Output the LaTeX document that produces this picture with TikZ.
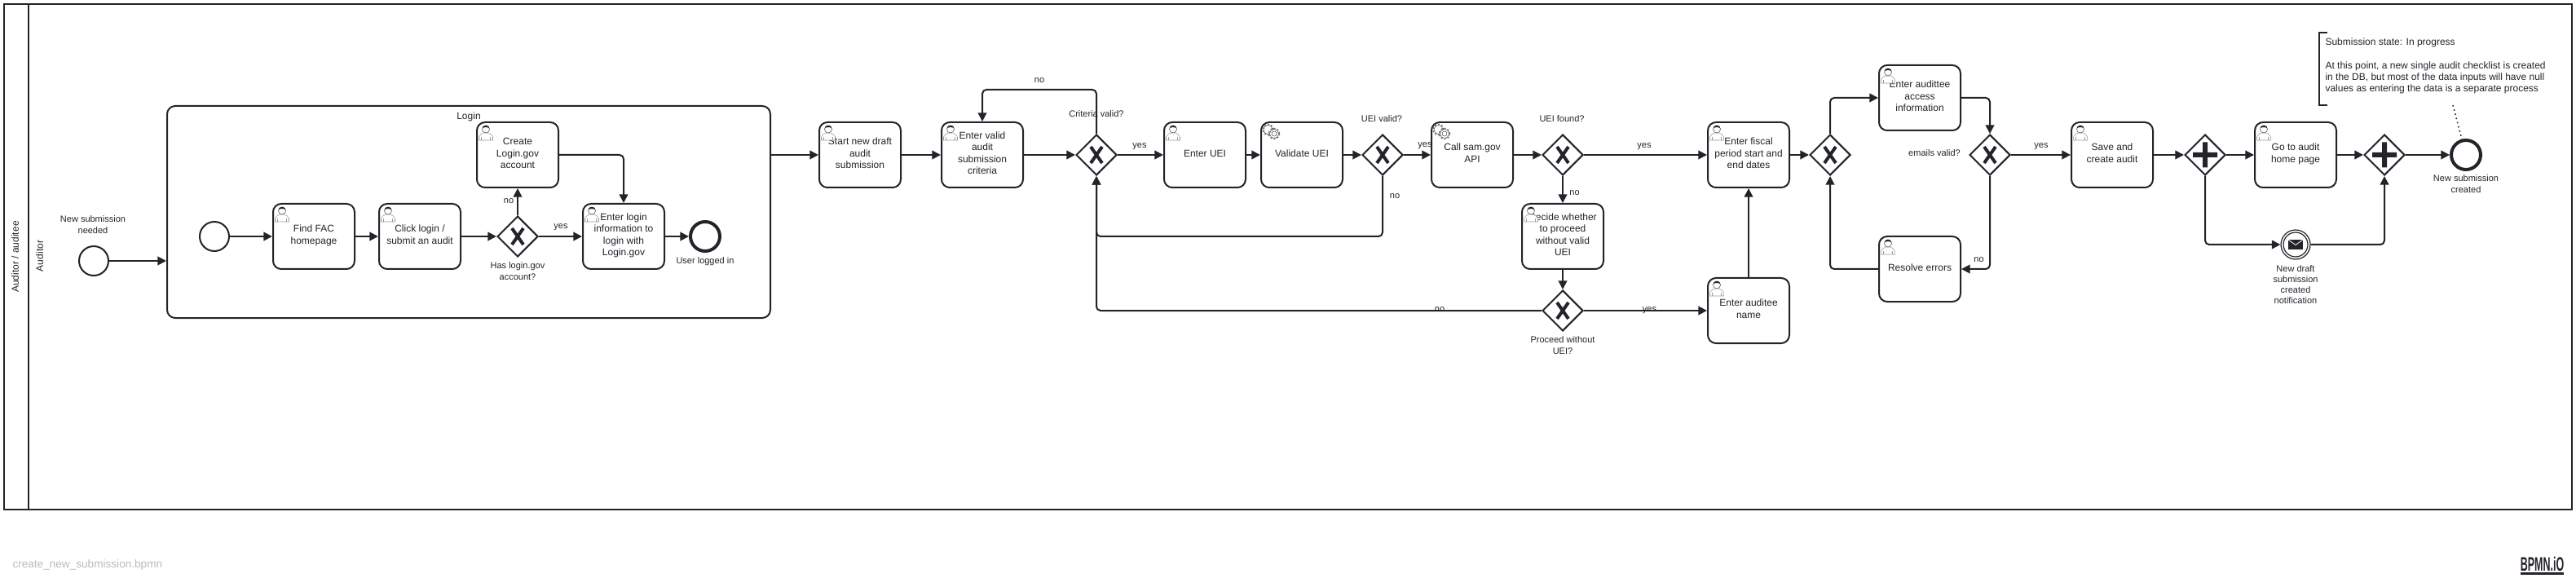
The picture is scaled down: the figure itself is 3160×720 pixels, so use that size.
\documentclass[tikz,border=0pt]{standalone}
\usepackage{fontspec}
\usepackage{graphicx}
\setmainfont{Liberation Sans}
\usetikzlibrary{arrows.meta,shapes.geometric}
\definecolor{bpmnink}{RGB}{34,36,42}
\tikzset{every picture/.style={line width=0.75pt}}
\tikzset{
	taskbox/.style={draw=bpmnink,text=bpmnink,line width=1.5pt,fill=white,rounded corners=7.5pt,minimum width=75pt,minimum height=60pt,inner sep=0pt,align=center,font=\fontsize{9}{10.8}\selectfont,execute at begin node=\strut,execute at end node=\strut},
	subbox/.style={draw=bpmnink,line width=1.5pt,rounded corners=7.5pt,minimum width=555pt,minimum height=195pt,inner sep=0pt},
	startevent/.style={circle,draw=bpmnink,line width=1.5pt,fill=white,minimum size=27pt,inner sep=0pt},
	endevent/.style={circle,draw=bpmnink,line width=3pt,fill=white,minimum size=27pt,inner sep=0pt},
	msgevent/.style={circle,draw=bpmnink,line width=0.9pt,fill=white,minimum size=27pt,inner sep=0pt},
	gateway/.style={diamond,draw=bpmnink,line width=1.5pt,fill=white,minimum width=37.5pt,minimum height=37.5pt,aspect=1,inner sep=0pt},
	flow/.style={draw=bpmnink,line width=1.5pt,rounded corners=3.75pt,-{Triangle[length=8pt,width=8pt]}},
	assoc/.style={draw=bpmnink,line width=1.1pt,dash pattern=on 1.3pt off 2.7pt},
	lbl/.style={text=bpmnink,inner sep=0pt,align=center,font=\fontsize{8.25}{9.9}\selectfont,execute at begin node=\strut,execute at end node=\strut},
	lbltask/.style={text=bpmnink,inner sep=0pt,align=center,font=\fontsize{9}{10.8}\selectfont,execute at begin node=\strut,execute at end node=\strut},
	usericon/.pic={
		\begin{scope}[yscale=-1]
		\draw [draw=black!40,fill=white,line width=0.4pt] (3.5,23) -- (3.5,19) .. controls (4,16) and (7,15.5) .. (9,14) -- (15,14) .. controls (17,15.5) and (20,16) .. (20.5,19) -- (20.5,23) -- cycle ;
		\draw [draw=black!40,line width=0.4pt] (6.5,23) -- (6.5,19) (17.5,23) -- (17.5,19) ;
		\draw [draw=black!70,fill=white,line width=0.4pt] (12,9.5) circle (4.5) ;
		\fill [black!85] (7.5,8.5) .. controls (8,3.5) and (16,3.5) .. (16.5,8.5) .. controls (14,6.5) and (10,6.5) .. (7.5,8.5) -- cycle ;
		\end{scope}
	},
	servicegear/.pic={
		\begin{scope}[yscale=-1]
		\draw [draw=black!55,line width=1.1pt,dash pattern=on 1.6pt off 1.6pt] (9.5,10) circle (6.5) ;
		\draw [draw=black!75,fill=white,line width=0.35pt] (9.5,10) circle (5.5) ;
		\draw [draw=black!55,line width=1.1pt,dash pattern=on 1.6pt off 1.6pt] (17,15) circle (6.5) ;
		\draw [draw=black!75,fill=white,line width=0.35pt] (17,15) circle (5.5) ;
		\draw [draw=black!75,fill=white,line width=0.35pt] (17,15) circle (3) ;
		\end{scope}
	},
	gatewayx/.pic={
		\draw [draw=bpmnink,line width=3pt] (-7,-10) -- (7,10) (7,-10) -- (-7,10) ;
	},
	gatewayplus/.pic={
		\fill [bpmnink] (-15,-3) rectangle (15,3) (-3,-15.5) rectangle (3,15.5) ;
	},
	envelope/.pic={
		\begin{scope}[yscale=-1]
		\draw [draw=bpmnink,line width=0.9pt] (0,0) circle (15) ;
		\fill [bpmnink] (-9,-6) rectangle (9,6) ;
		\draw [draw=white,line width=0.6pt] (-9,-6) -- (0,0.5) -- (9,-6) ;
		\end{scope}
	}
}

\begin{document}
\begin{tikzpicture}[x=0.75pt,y=0.75pt,yscale=-1,xscale=1]
	\useasboundingbox (0,0) rectangle (3160,720);

	%Pool
	\draw [draw=bpmnink,line width=1.5pt] (5,5) rectangle (3155,625) ;
	\draw [draw=bpmnink,line width=1.5pt] (35,5) -- (35,625) ;
	% Text Node
	\draw (20,315) node[lbltask,rotate=90] (poolname) {Auditor / auditee};
	% Text Node
	\draw (50,314) node[lbltask,rotate=90] (lanename) {Auditor};

	%Login subprocess
	\draw (575,260) node[subbox] (loginsub) {};
	% Text Node
	\draw (575,144) node[lbltask] (loginname) {Login};

	%Events
	\draw (115,320) node[startevent] (startneeded) {};
	\draw (263,290) node[startevent] (startlogin) {};
	\draw (865,290) node[endevent] (endlogin) {};
	\draw (3025,190) node[endevent] (endcreated) {};
	\draw (2816,300) node[msgevent] (msgnotify) {};
	\pic at (msgnotify.center) {envelope};

	%User tasks
	\draw (385,290) node[taskbox] (findfac) {Find FAC\\homepage};
	\draw (515,290) node[taskbox] (clicklogin) {Click login /\\submit an audit};
	\draw (635,190) node[taskbox] (createlogin) {Create\\Login.gov\\account};
	\draw (765,290) node[taskbox] (enterlogin) {Enter login\\information to\\login with\\Login.gov};
	\draw (1055,190) node[taskbox] (startdraft) {Start new draft\\audit\\submission};
	\draw (1205,190) node[taskbox] (entervalid) {Enter valid\\audit\\submission\\criteria};
	\draw (1478,190) node[taskbox] (enteruei) {Enter UEI};
	\draw (1917,290) node[taskbox] (decideuei) {Decide whether\\to proceed\\without valid\\UEI};
	\draw (2145,190) node[taskbox] (enterfiscal) {Enter fiscal\\period start and\\end dates};
	\draw (2145,381) node[taskbox] (entername) {Enter auditee\\name};
	\draw (2355,120) node[taskbox] (enteraccess) {Enter audittee\\access\\information};
	\draw (2355,330) node[taskbox] (resolve) {Resolve errors};
	\draw (2591,190) node[taskbox] (savecreate) {Save and\\create audit};
	\draw (2816,190) node[taskbox] (gohome) {Go to audit\\home page};

	%Service tasks
	\draw (1597,190) node[taskbox] (validateuei) {Validate UEI};
	\draw (1806,190) node[taskbox] (callsam) {Call sam.gov\\API};

	%Task icons
	\pic at (findfac.north west) {usericon};
	\pic at (clicklogin.north west) {usericon};
	\pic at (createlogin.north west) {usericon};
	\pic at (enterlogin.north west) {usericon};
	\pic at (startdraft.north west) {usericon};
	\pic at (entervalid.north west) {usericon};
	\pic at (enteruei.north west) {usericon};
	\pic at (decideuei.north west) {usericon};
	\pic at (enterfiscal.north west) {usericon};
	\pic at (entername.north west) {usericon};
	\pic at (enteraccess.north west) {usericon};
	\pic at (resolve.north west) {usericon};
	\pic at (savecreate.north west) {usericon};
	\pic at (gohome.north west) {usericon};
	\pic at (validateuei.north west) {servicegear};
	\pic at (callsam.north west) {servicegear};

	%Gateways
	\draw (635,290) node[gateway] (gwlogin) {};
	\draw (1345,190) node[gateway] (gwcriteria) {};
	\draw (1696,190) node[gateway] (gwuei) {};
	\draw (1917,190) node[gateway] (gwfound) {};
	\draw (1917,381) node[gateway] (gwproceed) {};
	\draw (2245,190) node[gateway] (gwaccess) {};
	\draw (2441,190) node[gateway] (gwemails) {};
	\draw (2705,190) node[gateway] (gwsplit) {};
	\draw (2925,190) node[gateway] (gwjoin) {};
	\pic at (gwlogin.center) {gatewayx};
	\pic at (gwcriteria.center) {gatewayx};
	\pic at (gwuei.center) {gatewayx};
	\pic at (gwfound.center) {gatewayx};
	\pic at (gwproceed.center) {gatewayx};
	\pic at (gwaccess.center) {gatewayx};
	\pic at (gwemails.center) {gatewayx};
	\pic at (gwsplit.center) {gatewayplus};
	\pic at (gwjoin.center) {gatewayplus};

	%Bend points
	\coordinate (looptop) at (1275,110);
	\coordinate (noreturn) at (1345,290);
	\coordinate (assocstart) at (3009,129);

	%Flows inside login
	\draw [flow] (startlogin) -- (findfac);
	\draw [flow] (findfac) -- (clicklogin);
	\draw [flow] (clicklogin) -- (gwlogin);
	\draw [flow] (gwlogin) -- (enterlogin);
	\draw [flow] (gwlogin) -- (createlogin);
	\draw [flow] (createlogin.east) -| (enterlogin.north);
	\draw [flow] (enterlogin) -- (endlogin);

	%Flows of the main line
	\draw [flow] (startneeded) -- (startneeded -| loginsub.west);
	\draw [flow] (loginsub.east |- startdraft.west) -- (startdraft.west);
	\draw [flow] (startdraft) -- (entervalid);
	\draw [flow] (entervalid) -- (gwcriteria);
	\draw [flow] (gwcriteria.north) |- (looptop) -| (entervalid.north);
	\draw [flow] (gwcriteria) -- (enteruei);
	\draw [flow] (enteruei) -- (validateuei);
	\draw [flow] (validateuei) -- (gwuei);
	\draw [flow] (gwuei) -- (callsam);
	\draw [flow] (gwuei.south) |- (noreturn) -- (gwcriteria.south);
	\draw [flow] (callsam) -- (gwfound);
	\draw [flow] (gwfound) -- (decideuei);
	\draw [flow] (gwfound) -- (enterfiscal);
	\draw [flow] (decideuei) -- (gwproceed);
	\draw [flow] (gwproceed.west) -| (gwcriteria.south);
	\draw [flow] (gwproceed) -- (entername);
	\draw [flow] (entername) -- (enterfiscal);
	\draw [flow] (enterfiscal) -- (gwaccess);
	\draw [flow] (gwaccess.north) |- (enteraccess.west);
	\draw [flow] (enteraccess.east) -| (gwemails.north);
	\draw [flow] (gwemails.south) |- (resolve.east);
	\draw [flow] (resolve.west) -| (gwaccess.south);
	\draw [flow] (gwemails) -- (savecreate);
	\draw [flow] (savecreate) -- (gwsplit);
	\draw [flow] (gwsplit) -- (gohome);
	\draw [flow] (gohome) -- (gwjoin);
	\draw [flow] (gwsplit.south) |- (msgnotify.west);
	\draw [flow] (msgnotify.east) -| (gwjoin.south);
	\draw [flow] (gwjoin) -- (endcreated);

	%Annotation
	\draw [draw=bpmnink,line width=1.5pt] (2855,40) -- (2845,40) -- (2845,129.5) -- (2855,129.5) ;
	\draw [assoc] (assocstart) -- (endcreated);
	% Text Node
	\draw (2852,82) node[lbltask,anchor=west,align=left] (noteinfo) {Submission state: In progress\\ \\At this point, a new single audit checklist is created\\in the DB, but most of the data inputs will have null\\values as entering the data is a separate process};

	% Text Node
	\draw (114,277.5) node[lbl] (lblneeded) {New submission\\needed};
	% Text Node
	\draw (624,247) node[lbl] (lblno1) {no};
	% Text Node
	\draw (688,278) node[lbl] (lblyes1) {yes};
	% Text Node
	\draw (635,334.5) node[lbl] (lblhas) {Has login.gov\\account?};
	% Text Node
	\draw (865,321) node[lbl] (lbllogged) {User logged in};
	% Text Node
	\draw (1275,99) node[lbl] (lblno2) {no};
	% Text Node
	\draw (1345,141) node[lbl] (lblcriteria) {Criteria valid?};
	% Text Node
	\draw (1398,179) node[lbl] (lblyes2) {yes};
	% Text Node
	\draw (1695,147) node[lbl] (lbluei) {UEI valid?};
	% Text Node
	\draw (1748,178) node[lbl] (lblyes3) {yes};
	% Text Node
	\draw (1711,241) node[lbl] (lblno3) {no};
	% Text Node
	\draw (1916,147) node[lbl] (lblfound) {UEI found?};
	% Text Node
	\draw (1931.5,237) node[lbl] (lblno4) {no};
	% Text Node
	\draw (1766,380) node[lbl] (lblno5) {no};
	% Text Node
	\draw (1917,425.5) node[lbl] (lblproceed) {Proceed without\\UEI?};
	% Text Node
	\draw (2017,179) node[lbl] (lblyes4) {yes};
	% Text Node
	\draw (2023.5,380) node[lbl] (lblyes5) {yes};
	% Text Node
	\draw (2373,189) node[lbl] (lblemails) {emails valid?};
	% Text Node
	\draw (2504,179) node[lbl] (lblyes6) {yes};
	% Text Node
	\draw (2427.5,319) node[lbl] (lblno6) {no};
	% Text Node
	\draw (3025,227.5) node[lbl] (lblcreated) {New submission\\created};
	% Text Node
	\draw (2816,351) node[lbl] (lblnotify) {New draft\\submission\\created\\notification};

	%Footer
	\draw (15,693) node[anchor=west,inner sep=0pt,text=black!27,font=\fontsize{10.2}{12}\selectfont] (filename) {create\_new\_submission.bpmn};
	\draw (3118.5,691.5) node[inner sep=0pt,text=bpmnink,font=\fontsize{18}{20}\selectfont\bfseries] (logotext) {\scalebox{0.52}[1]{BPMN.iO}};
	\fill [bpmnink] (3092,701.5) rectangle (3145,705) ;

\end{tikzpicture}
\end{document}
